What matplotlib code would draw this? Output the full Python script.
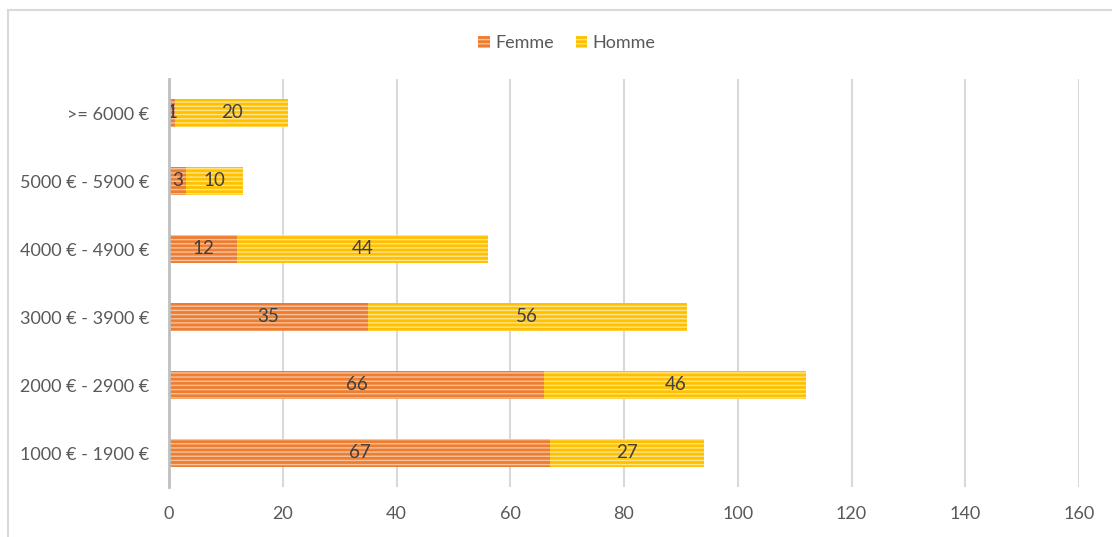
import matplotlib
matplotlib.use("Agg")
import matplotlib.pyplot as plt
from matplotlib.lines import Line2D
from matplotlib.patches import Patch

plt.rcParams['font.family'] = ['Lato', 'DejaVu Sans']
plt.rcParams['hatch.linewidth'] = 1.0

categories = ["1000 € - 1900 €", "2000 € - 2900 €", "3000 € - 3900 €",
              "4000 € - 4900 €", "5000 € - 5900 €", ">= 6000 €"]
femme = [67, 66, 35, 12, 3, 1]
homme = [27, 46, 56, 44, 10, 20]
xticks = [0, 20, 40, 60, 80, 100, 120, 140, 160]

c_f, c_f_h = "#ED7D31", "#F8C29C"
c_h, c_h_h = "#FFC000", "#FFE58A"
HATCH = "----"

fig = plt.figure(figsize=(11.12, 5.37), dpi=100)
W, H = 1112, 537
ax = fig.add_axes([169 / W, 1 - 487 / H, (1079 - 169) / W, (487 - 79) / H])

y = list(range(len(categories)))
bh = 0.4
b1 = ax.barh(y, femme, height=bh, color=c_f, edgecolor=c_f_h, linewidth=0,
             hatch=HATCH, zorder=3, label="Femme")
b2 = ax.barh(y, homme, left=femme, height=bh, color=c_h, edgecolor=c_h_h,
             linewidth=0, hatch=HATCH, zorder=3, label="Homme")

for bars in (b1, b2):
    ax.bar_label(bars, label_type="center", color="#404040", fontsize=13.5, zorder=4)

ax.set_xlim(0, 160)
ax.set_ylim(-0.5, 5.5)
ax.set_xticks(xticks)
ax.set_yticks(y)
ax.set_yticklabels(categories)
ax.tick_params(axis="both", length=0, labelsize=13, labelcolor="#595959")
ax.tick_params(axis="x", pad=14)
ax.tick_params(axis="y", pad=14)
ax.grid(axis="x", color="#D9D9D9", linewidth=1.5, zorder=0)
for s in ("top", "right", "bottom"):
    ax.spines[s].set_visible(False)
ax.spines["left"].set_color("#BFBFBF")
ax.spines["left"].set_linewidth(2)
ax.spines["left"].set_zorder(5)

handles = [Patch(facecolor=c_f, edgecolor=c_f_h, linewidth=0, hatch=HATCH),
           Patch(facecolor=c_h, edgecolor=c_h_h, linewidth=0, hatch=HATCH)]
fig.legend(handles, ["Femme", "Homme"], loc="center", bbox_to_anchor=(567 / W, 1 - 43 / H),
           ncol=2, frameon=False, fontsize=13, labelcolor="#595959",
           handlelength=0.65, handleheight=0.65, handletextpad=0.3, columnspacing=1.2)

# outer chart frame lines (top and left)
fig.add_artist(Line2D([8 / W, 1], [1 - 10 / H, 1 - 10 / H], color="#D9D9D9", linewidth=1.5))
fig.add_artist(Line2D([8 / W, 8 / W], [0, 1 - 10 / H], color="#D9D9D9", linewidth=1.5))

fig.savefig("out.png", dpi=100)
